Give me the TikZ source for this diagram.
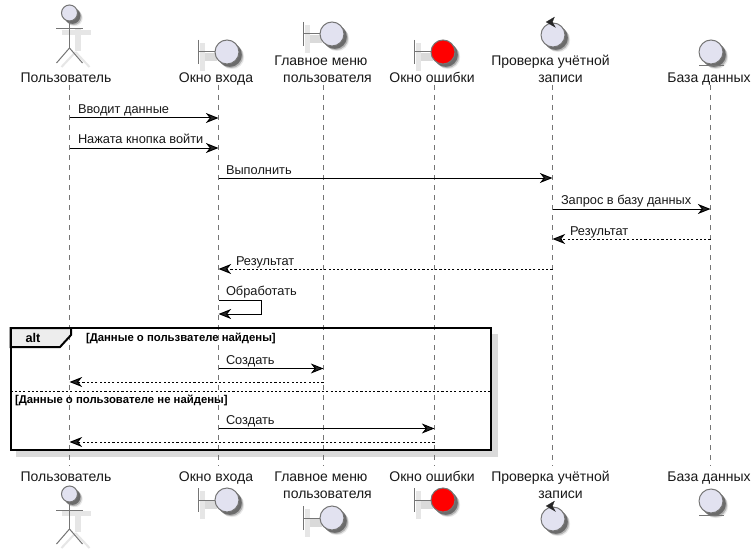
\documentclass[tikz,border=0pt]{standalone}
\usepackage{fontspec}
\setmainfont{Liberation Sans}
\usetikzlibrary{arrows.meta}
\definecolor{partfill}{HTML}{E2E2F0}
\definecolor{partline}{HTML}{757575}
\definecolor{shadowc}{HTML}{DADADA}
\definecolor{shadowl}{HTML}{E6E6E6}
\tikzset{
  x=0.75pt,y=-0.75pt,
  every node/.style={inner sep=0pt,outer sep=0pt},
  solidshape/.style={draw=#1,fill=#1,line width=0.05pt},
  lifeline/.style={draw=partline,line width=0.6pt,dash pattern=on 3.75pt off 3.75pt},
  partlabel/.style={font=\fontsize{10.5pt}{12pt}\selectfont,text=black!90,anchor=base},
  msglabel/.style={font=\fontsize{9.6pt}{11pt}\selectfont,text=black!90,anchor=base west},
  guardlabel/.style={font=\bfseries\fontsize{8.5pt}{9pt}\selectfont,text=black,anchor=base west},
  icon/.style={circle,draw=partline,line width=0.75pt,fill=partfill,minimum size=18pt},
  iconred/.style={icon,fill=red},
  iconstroke/.style={draw=partline,line width=0.75pt},
  stickshadow/.style={draw=shadowl,line width=3.5pt},
  msg/.style={draw=black,line width=0.75pt,-{Stealth[length=9.5pt,width=7.5pt,inset=3pt,fill=black!85]}},
  reply/.style={msg,dash pattern=on 1.6pt off 1.6pt},
  frameline/.style={draw=black,line width=1.5pt},
}
% circle shadow: x, y, radius
\newcommand{\iconshade}[3]{%
  \path[solidshape=shadowl] (#1+5,#2+5) circle[radius=#3];
  \path[solidshape=black!30] (#1+4,#2+4) circle[radius=#3];
  \path[solidshape=black!58] (#1+2.8,#2+2.8) circle[radius=#3];
}
\newcommand{\boundaryicon}[4]{% name, circle x, y, fill style
  \path[solidshape=shadowc] (#2-25,#3+1) rectangle (#2-11,#3+8);
  \path[solidshape=shadowl] (#2-27,#3-9) rectangle (#2-23,#3+18);
  \iconshade{#2}{#3}{12}
  \node[#4] (#1) at (#2,#3) {};
  \coordinate (#1bar) at (#2-28.5,#3);
  \draw[iconstroke] (#1bar) -- (#1.west);
  \draw[iconstroke] (#2-28.5,#3-12) -- (#2-28.5,#3+12);
}
\newcommand{\controlicon}[3]{%
  \iconshade{#2}{#3}{12}
  \node[icon] (#1) at (#2,#3) {};
  \path[solidshape=black!85] (#2+1.5,#3-18) -- (#2-7,#3-13) -- (#2+2.5,#3-7.5) -- (#2-0.5,#3-13) -- cycle;
}
\newcommand{\entityicon}[3]{%
  \iconshade{#2}{#3}{12}
  \node[icon] (#1) at (#2,#3) {};
  \draw[iconstroke] (#2-12,#3+14) -- (#2+13,#3+14);
}
\newcommand{\actoricon}[3]{%
  \draw[stickshadow,line width=4.5pt] (#2+8,#3+16) -- (#2+8,#3+38);
  \draw[stickshadow] (#2-8,#3+19.5) -- (#2+21,#3+19.5);
  \draw[stickshadow,line width=1.5pt] (#2+6,#3+39) -- (#2-8,#3+54);
  \draw[stickshadow,line width=1.5pt] (#2+6,#3+39) -- (#2+20,#3+54);
  \iconshade{#2}{#3}{8}
  \node[icon,minimum size=12pt] (#1) at (#2,#3) {};
  \draw[iconstroke] (#1.south) -- (#2,#3+35);
  \draw[iconstroke] (#2-13.5,#3+16) -- (#2+13.5,#3+16);
  \draw[iconstroke] (#2,#3+35) -- (#2-13,#3+50);
  \draw[iconstroke] (#2,#3+35) -- (#2+13,#3+50);
}
\begin{document}
\begin{tikzpicture}
\useasboundingbox (0,0) rectangle (755,549);
\path[solidshape=white] (0,0) rectangle (755,549);

% frame shadow
\path[solidshape=shadowc] (16,450) rectangle (497,456);
\path[solidshape=shadowc] (491,334) rectangle (497,456);

% lifeline ends
\foreach \n/\x in {user/69.5,login/218.5,menu/323.5,err/434.5,check/552.5,db/710.5}{
  \coordinate (\n top) at (\x,85);
  \coordinate (\n bot) at (\x,466);
  \draw[lifeline] (\n top) -- (\n bot);
}

% top participants
\actoricon{utop}{69.5}{13}
\boundaryicon{ltop}{227}{52}{icon}
\boundaryicon{mtop}{332}{34}{icon}
\boundaryicon{etop}{443}{52}{iconred}
\controlicon{ctop}{553}{35}
\entityicon{dtop}{711}{52}
\node[partlabel] (utl) at (66,83) {Пользователь};
\node[partlabel] (ltl) at (216,83) {Окно входа};
\node[partlabel] (mtl1) at (321,65.5) {Главное меню};
\node[partlabel] (mtl2) at (327.5,83) {пользователя};
\node[partlabel] (etl) at (432,83) {Окно ошибки};
\node[partlabel] (ctl1) at (550.5,65.5) {Проверка учётной};
\node[partlabel] (ctl2) at (560.5,83) {записи};
\node[partlabel] (dtl) at (709,83) {База данных};

% bottom participants
\node[partlabel] (ubl) at (66,481) {Пользователь};
\node[partlabel] (lbl) at (216,481) {Окно входа};
\node[partlabel] (mbl1) at (321,481) {Главное меню};
\node[partlabel] (mbl2) at (327.5,498.5) {пользователя};
\node[partlabel] (ebl) at (432,481) {Окно ошибки};
\node[partlabel] (cbl1) at (550.5,481) {Проверка учётной};
\node[partlabel] (cbl2) at (560.5,498.5) {записи};
\node[partlabel] (dbl) at (709,481) {База данных};
\actoricon{ubot}{69.5}{494}
\boundaryicon{lbot}{227}{500}{icon}
\boundaryicon{mbot}{332}{518}{icon}
\boundaryicon{ebot}{443}{500}{iconred}
\controlicon{cbot}{553}{519}
\entityicon{dbot}{711}{501}

% messages
\coordinate (r1) at (0,118);
\coordinate (r2) at (0,148);
\coordinate (r3) at (0,178);
\coordinate (r4) at (0,209);
\coordinate (r5) at (0,239);
\coordinate (r6) at (0,269);
\coordinate (r7) at (0,300);
\coordinate (r7b) at (0,314);
\coordinate (r8) at (0,368.5);
\coordinate (r9) at (0,382);
\coordinate (r10) at (0,428.5);
\coordinate (r11) at (0,442);
\coordinate (selfx) at (261,0);

\draw[msg] (usertop|-r1) -- (logintop|-r1);
\draw[msg] (usertop|-r2) -- (logintop|-r2);
\draw[msg] (logintop|-r3) -- (checktop|-r3);
\draw[msg] (checktop|-r4) -- (dbtop|-r4);
\draw[reply] (dbtop|-r5) -- (checktop|-r5);
\draw[reply] (checktop|-r6) -- (logintop|-r6);
\draw[msg] (logintop|-r7) -- (selfx|-r7) -- (selfx|-r7b) -- (logintop|-r7b);
\draw[msg] (logintop|-r8) -- (menutop|-r8);
\draw[reply] (menutop|-r9) -- (usertop|-r9);
\draw[msg] (logintop|-r10) -- (errtop|-r10);
\draw[reply] (errtop|-r11) -- (usertop|-r11);

\node[msglabel] (t1) at (78,113.5) {Вводит данные};
\node[msglabel] (t2) at (78,143.5) {Нажата кнопка войти};
\node[msglabel] (t3) at (226,174) {Выполнить};
\node[msglabel] (t4) at (561,204.5) {Запрос в базу данных};
\node[msglabel] (t5) at (570,235) {Результат};
\node[msglabel] (t6) at (236,265) {Результат};
\node[msglabel] (t7) at (226,295) {Обработать};
\node[msglabel] (t8) at (226,364) {Создать};
\node[msglabel] (t10) at (226,424) {Создать};

% alt frame
\path[fill=black!7,frameline] (10.5,328) -- (71,328) -- (71,335) -- (60,347) -- (10.5,347) -- cycle;
\draw[frameline] (10.5,328) rectangle (491,450);
\draw[draw=black,line width=0.6pt,dash pattern=on 1.6pt off 1.6pt] (10.5,391) -- (491,391);
\node[font=\bfseries\fontsize{9.5pt}{11pt}\selectfont,anchor=base] (alt) at (33,342.5) {alt};
\node[guardlabel] (g1) at (86,341) {[Данные о пользвателе найдены]};
\node[guardlabel] (g2) at (15,403) {[Данные о пользователе не найдены]};
\end{tikzpicture}
\end{document}
